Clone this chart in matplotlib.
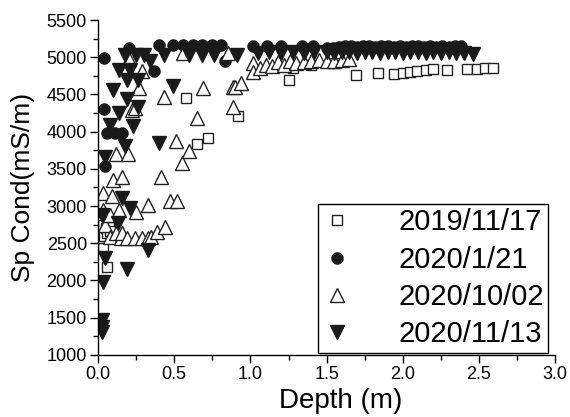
import numpy as np
import matplotlib
matplotlib.use("Agg")
import matplotlib.pyplot as plt
from matplotlib.ticker import MultipleLocator

plt.rcParams['font.family'] = ['Liberation Sans', 'DejaVu Sans']

# 2019/11/17 (open squares)
d_1117 = [0.01, 0.02, 0.03, 0.04, 0.05, 0.06, 0.07, 0.08, 0.03, 0.06,
          0.58, 0.65, 0.72, 0.92, 1.25, 1.28, 1.40, 1.55,
          1.69, 1.84, 1.94, 2.00, 2.05, 2.09, 2.15, 2.20, 2.29, 2.42, 2.49, 2.54, 2.59]
v_1117 = [2620, 2680, 2750, 2600, 2700, 2640, 2720, 2660, 2440, 2180,
          4450, 3830, 3910, 4210, 4690, 4850, 4900, 4920,
          4760, 4790, 4770, 4790, 4800, 4810, 4830, 4840, 4830, 4840, 4840, 4850, 4850]

# 2020/1/21 (filled circles)
d_0121 = [0.04, 0.04, 0.045, 0.06, 0.11, 0.16, 0.20, 0.37, 0.40, 0.49, 0.56, 0.62,
          0.68, 0.75, 0.81, 0.83, 1.02, 1.11, 1.20, 1.34, 1.41, 1.50, 1.54, 1.58,
          1.62, 1.66, 1.70, 1.74, 1.78, 1.82, 1.86, 1.90, 1.94, 1.98, 2.02, 2.06,
          2.10, 2.14, 2.18, 2.22, 2.26, 2.30, 2.34, 2.38]
v_0121 = [4990, 4300, 3540, 3980, 3980, 3980, 5120, 4810, 5160, 5160, 5160, 5160,
          5160, 5160, 5160, 4950, 5150, 5150, 5150, 5150, 5150, 5120, 5130, 5140,
          5150, 5150, 5140, 5150, 5150, 5140, 5150, 5150, 5140, 5150, 5140, 5150,
          5150, 5140, 5150, 5140, 5150, 5140, 5150, 5150]

# 2020/10/02 (open triangles)
d_1002 = [0.03, 0.03, 0.045, 0.08, 0.08, 0.09, 0.10, 0.12, 0.12, 0.14, 0.15, 0.16,
          0.16, 0.19, 0.195, 0.20, 0.22, 0.24, 0.24, 0.25, 0.27, 0.29, 0.29, 0.33,
          0.33, 0.35, 0.39, 0.41, 0.43, 0.44, 0.47, 0.51, 0.52, 0.55, 0.56, 0.60,
          0.65, 0.69, 0.85, 0.885, 0.885, 0.90, 0.94, 1.02, 1.02, 1.06, 1.10, 1.14,
          1.18, 1.22, 1.26, 1.30, 1.35, 1.40, 1.45, 1.50, 1.55, 1.60, 1.65]
v_1002 = [3175, 2950, 2745, 2880, 2585, 3135, 3350, 3700, 2640, 2950, 2570, 3390,
          2640, 2570, 3700, 4975, 4290, 4320, 2570, 2920, 4590, 4810, 2570, 3015,
          2570, 2585, 2650, 3390, 4465, 2720, 3070, 3870, 3070, 3580, 5056, 3740,
          4180, 4590, 5056, 4600, 4330, 4600, 4650, 4920, 4800, 4850, 4900, 4880,
          4930, 4900, 4950, 4920, 4940, 4950, 4960, 4950, 4950, 4960, 4970]

# 2020/11/13 (filled down triangles)
d_1113 = [0.025, 0.025, 0.025, 0.025, 0.03, 0.045, 0.045, 0.08, 0.10, 0.13, 0.14,
          0.14, 0.16, 0.18, 0.18, 0.19, 0.19, 0.19, 0.21, 0.21, 0.23, 0.25, 0.26,
          0.26, 0.30, 0.33, 0.34, 0.40, 0.43, 0.49, 0.60, 0.68, 0.76, 0.91, 1.05,
          1.12, 1.20, 1.28, 1.35, 1.42, 1.50, 1.55, 1.60, 1.65, 1.70, 1.75, 1.80,
          1.85, 1.90, 1.95, 2.00, 2.05, 2.10, 2.15, 2.20, 2.25, 2.30, 2.35, 2.40,
          2.46]
v_1113 = [1470, 1376, 1310, 2880, 1980, 3660, 2300, 4090, 4560, 2770, 4830,
          4250, 3110, 5030, 3810, 4690, 4440, 2155, 4830, 2975, 4080, 5030, 4690,
          4330, 5030, 2410, 4950, 3850, 5030, 4610, 5030, 5030, 5030, 5030, 5060,
          5070, 5060, 5070, 5060, 5070, 5070, 5060, 5070, 5070, 5060, 5070, 5070,
          5060, 5070, 5070, 5060, 5070, 5070, 5060, 5070, 5060, 5070, 5060, 5060,
          5050]

labels = ['2019/11/17', '2020/1/21', '2020/10/02', '2020/11/13']

fig = plt.figure(figsize=(5.7, 4.17), dpi=100)
ax = fig.add_axes([0.172, 0.149, 0.802, 0.803])

ax.plot(d_1117, v_1117, 's', ms=7, mfc='white', mec='#222222', mew=1.0, ls='none', label=labels[0])
ax.plot(d_0121, v_0121, 'o', ms=8, color='#1a1a1a', ls='none', label=labels[1])
ax.plot(d_1002, v_1002, '^', ms=9.5, mfc='white', mec='#222222', mew=1.0, ls='none', label=labels[2])
ax.plot(d_1113, v_1113, 'v', ms=9.5, color='#1a1a1a', ls='none', label=labels[3])

ax.set_xlim(0, 3.0)
ax.set_ylim(1000, 5500)
ax.xaxis.set_major_locator(MultipleLocator(0.5))
ax.xaxis.set_minor_locator(MultipleLocator(0.25))
ax.yaxis.set_major_locator(MultipleLocator(500))
ax.yaxis.set_minor_locator(MultipleLocator(250))
ax.xaxis.set_major_formatter(plt.FuncFormatter(lambda x, p: f'{x:.1f}'))
ax.spines['top'].set_visible(False)
ax.spines['right'].set_visible(False)
for s in ['left', 'bottom']:
    ax.spines[s].set_linewidth(1.0)
ax.tick_params(which='major', direction='out', length=6, width=1.0, labelsize=13, pad=2)
ax.tick_params(which='minor', direction='out', length=3.5, width=1.0)

ax.set_xlabel('Depth (m)', fontsize=20)
ax.xaxis.set_label_coords(0.53, -0.1)
ax.set_ylabel('Sp Cond(mS/m)', fontsize=19)
ax.yaxis.set_label_coords(-0.137, 0.5)

leg = ax.legend(loc='lower right', bbox_to_anchor=(0.985, 0.006), fontsize=21,
                frameon=True, fancybox=False, edgecolor='black', framealpha=1,
                handletextpad=1.6, labelspacing=0.32, borderpad=0.15,
                handlelength=1.0, borderaxespad=0)
leg.get_frame().set_linewidth(1.0)

fig.savefig('out.png', dpi=100)
